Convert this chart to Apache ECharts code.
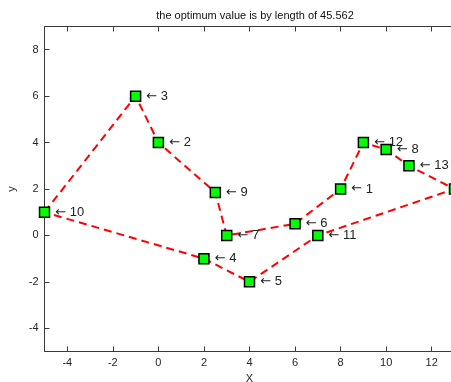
<!DOCTYPE html>
<html>
<head>
<meta charset="utf-8">
<script src="https://cdn.jsdelivr.net/npm/echarts@6/dist/echarts.min.js"></script>
<style>
  html, body { margin: 0; padding: 0; background: #fff; }
  #chart { width: 451px; height: 382px; }
</style>
</head>
<body>
<div id="chart"></div>
<script>
// City coordinates (city n is at index n-1)
const cityIds = [1, 2, 3, 4, 5, 6, 7, 8, 9, 10, 11, 12, 13, 14];
const cityX = [8, 0, -1, 2, 4, 6, 3, 10, 2.5, -5, 7, 9, 11, 13];
const cityY = [2, 4, 6, -1, -2, 0.5, 0, 3.7, 1.85, 1, 0, 4, 3, 2];

// Visiting order of the best tour (closed loop)
const route = [10, 3, 2, 9, 7, 6, 1, 12, 8, 13, 14, 11, 5, 4, 10];

const xTicks = [-4, -2, 0, 2, 4, 6, 8, 10, 12];
const yTicks = [-4, -2, 0, 2, 4, 6, 8];

const titleText = 'the optimum value is by length of 45.562';

const cityData = cityIds.map((id, i) => [cityX[i], cityY[i], id]);
const routeData = route.map(id => [cityX[id - 1], cityY[id - 1]]);

const font = 'Liberation Sans, Arial, sans-serif';
const axisColor = '#3a3a3a';

const chart = echarts.init(document.getElementById('chart'), null, { renderer: 'canvas' });

const baseAxis = {
  type: 'value',
  axisLine: { show: true, onZero: false, lineStyle: { color: axisColor, width: 1 } },
  axisTick: { show: true, inside: true, length: 5, lineStyle: { color: axisColor } },
  splitLine: { show: false },
  axisLabel: { color: '#262626', fontFamily: font, fontSize: 11, margin: 6 }
};

chart.setOption({
  animation: false,
  backgroundColor: '#fff',
  title: {
    text: titleText,
    left: 250,
    textAlign: 'center',
    top: 5,
    textStyle: { fontFamily: font, fontSize: 11, fontWeight: 'normal', color: '#111' }
  },
  grid: {
    left: 44.5, top: 26.5, width: 410, height: 325,
    containLabel: false,
    outerBoundsMode: 'none'
  },
  xAxis: [
    Object.assign({}, baseAxis, {
      position: 'bottom',
      min: -5, max: 13,
      name: 'X',
      nameLocation: 'middle',
      nameGap: 19,
      nameTextStyle: { fontFamily: font, fontSize: 11, color: '#262626' },
      axisTick: Object.assign({}, baseAxis.axisTick, { customValues: xTicks }),
      axisLabel: Object.assign({}, baseAxis.axisLabel, { customValues: xTicks })
    }),
    Object.assign({}, baseAxis, {
      position: 'top',
      min: -5, max: 13,
      axisTick: Object.assign({}, baseAxis.axisTick, { customValues: xTicks }),
      axisLabel: { show: false }
    })
  ],
  yAxis: [
    Object.assign({}, baseAxis, {
      position: 'left',
      min: -5, max: 9,
      name: 'y',
      nameLocation: 'middle',
      nameGap: 24,
      nameRotate: 90,
      nameTextStyle: { fontFamily: font, fontSize: 11, color: '#262626' },
      axisTick: Object.assign({}, baseAxis.axisTick, { customValues: yTicks }),
      axisLabel: Object.assign({}, baseAxis.axisLabel, { customValues: yTicks })
    })
  ],
  series: [
    {
      type: 'line',
      xAxisIndex: 0,
      yAxisIndex: 0,
      data: routeData,
      showSymbol: false,
      symbol: 'none',
      lineStyle: { color: '#ff0000', width: 2, type: [8, 5] },
      z: 2
    },
    {
      type: 'scatter',
      xAxisIndex: 0,
      yAxisIndex: 0,
      data: cityData,
      symbol: 'rect',
      symbolSize: 10,
      itemStyle: { color: '#00ff00', borderColor: '#000', borderWidth: 1.5, opacity: 1 },
      label: {
        show: true,
        position: 'right',
        distance: 5,
        formatter: p => '{a|\u2190} ' + p.value[2],
        fontFamily: font,
        fontSize: 13,
        color: '#222',
        rich: {
          a: { fontFamily: 'DejaVu Sans', fontSize: 13, color: '#222' }
        }
      },
      z: 3
    }
  ]
});
</script>
</body>
</html>
